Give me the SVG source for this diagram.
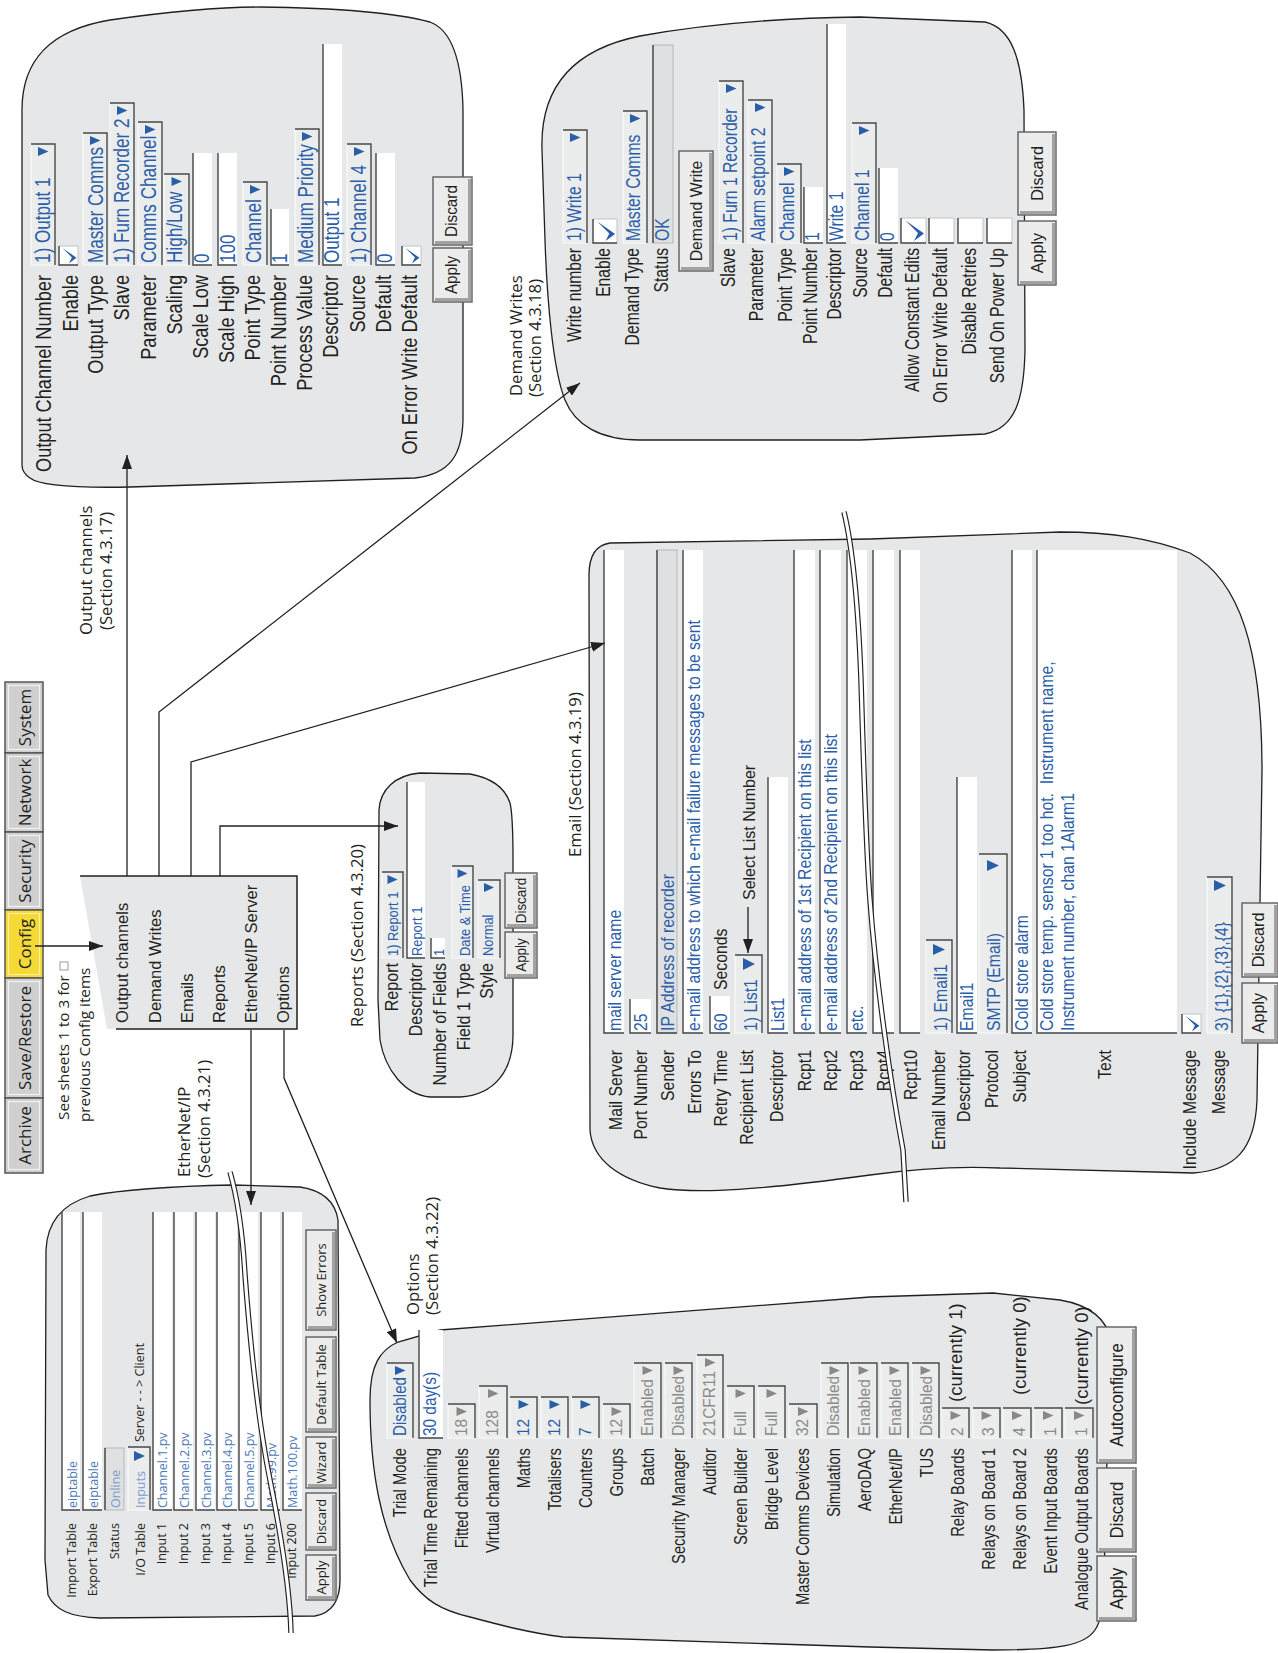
<svg xmlns="http://www.w3.org/2000/svg" width="1278" height="1653" viewBox="0 0 1278 1653">
<defs>
<marker id="ah" viewBox="0 0 14 10" refX="14" refY="5" markerWidth="14" markerHeight="10" markerUnits="userSpaceOnUse" orient="auto"><path d="M0,0L14,5L0,10z" fill="#231f20"/></marker>
</defs>
<style>
.pn{fill:#e6e7e8;stroke:#231f20;stroke-width:1.3}
.ln{fill:none;stroke:#231f20;stroke-width:1.3}
.dd{fill:#ebecec;stroke:#fbfbfb;stroke-width:1}
.wf{fill:#fff}
.gb{fill:#dfe0e1;stroke:#b8b8b8;stroke-width:1}
.dk{fill:none;stroke:#454545;stroke-width:1.4}
.lt{fill:none;stroke:#c4c4c4;stroke-width:1}
.tb{fill:#2b5ea9}
.tg{fill:#8b8782}
.bt{fill:#ececec;stroke:#5e5e5e;stroke-width:1.4}
.bs{fill:none;stroke:#a2a2a2;stroke-width:3}
.tab{fill:#d0d0d0;stroke:#555;stroke-width:1.5}
.tabi{fill:none;stroke:#f2f2f2;stroke-width:1.2}
.tabc{fill:#f5d936;stroke:#555;stroke-width:1.5}
.tabci{fill:none;stroke:#fff2a0;stroke-width:1.2}
.brk1{fill:none;stroke:#231f20;stroke-width:5.5}
.brk2{fill:none;stroke:#fff;stroke-width:3.2}
.f{font-family:"Liberation Sans",Arial,sans-serif;fill:#231f20}
.o{font-family:"Open Sans","Noto Sans",sans-serif;fill:#231f20}
.bl{fill:#2b5ea9}
.gy{fill:#8a8a8a}
.lb{fill:#4d79b6}
.lb2{fill:#7d9ccc}
.e{text-anchor:end}
.m{text-anchor:middle}
.z1{font-size:21.4px}
.z2{font-size:20px}
.z3{font-size:18.6px}
.z4{font-size:18.5px}
.z5{font-size:16.3px}
.z6{font-size:17.5px}
.z7{font-size:14px}
.z8{font-size:17px}
.z9{font-size:16.7px}
.z10{font-size:16.5px}
.z11{font-size:12.5px}
.z12{font-size:13px}
.z13{font-size:17px}
.z14{font-size:15.3px}
.z15{font-size:16px}
.z16{font-size:15px}
</style>
<rect width="1278" height="1653" fill="#fff"/>

<g id="output-channels">
<path class="pn" d="M22,465 L22,110 C22,60 50,30 110,20 C180,10 230,7 260,7 C340,8 400,14 430,22 C452,30 462,60 463,110 L463,420 C462,455 450,474 415,478 L130,487 C80,488 40,486 30,478 C24,474 22,470 22,465 Z"/>
<rect class="dd" x="31" y="144" width="24" height="121"/><path class="dk" d="M31,144H55V265"/><polygon class="tb" points="38,147 38,156 48.5,151.5"/>
<rect class="wf" x="59" y="246" width="19" height="19"/><path class="lt" d="M59,246H78V265"/><path class="dk" d="M59,246V265H78"/><polygon class="tb" points="62.4,247.9 76.5,257.8 68.9,263.5 71.9,257.4"/>
<rect class="dd" x="83" y="133" width="24" height="132"/><path class="dk" d="M83,133H107V265"/><polygon class="tb" points="90,136 90,145 100.5,140.5"/>
<rect class="dd" x="110" y="103" width="24" height="162"/><path class="dk" d="M110,103H134V265"/><polygon class="tb" points="117,106 117,115 127.5,110.5"/>
<rect class="dd" x="138" y="122" width="24" height="143"/><path class="dk" d="M138,122H162V265"/><polygon class="tb" points="145,125 145,134 155.5,129.5"/>
<rect class="dd" x="164" y="174" width="25" height="91"/><path class="dk" d="M164,174H189V265"/><polygon class="tb" points="171.5,177 171.5,186 182,181.5"/>
<rect class="wf" x="193" y="153" width="19" height="112"/><path class="dk" d="M193,153V265H212"/>
<rect class="wf" x="218" y="153" width="19" height="112"/><path class="dk" d="M218,153V265H237"/>
<rect class="dd" x="243" y="182" width="24" height="83"/><path class="dk" d="M243,182H267V265"/><polygon class="tb" points="250,185 250,194 260.5,189.5"/>
<rect class="wf" x="271" y="209" width="18" height="56"/><path class="dk" d="M271,209V265H289"/>
<rect class="dd" x="295" y="129" width="24" height="136"/><path class="dk" d="M295,129H319V265"/><polygon class="tb" points="302,132 302,141 312.5,136.5"/>
<rect class="wf" x="323" y="44" width="19" height="221"/><path class="dk" d="M323,44V265H342"/>
<rect class="dd" x="347" y="144" width="24" height="121"/><path class="dk" d="M347,144H371V265"/><polygon class="tb" points="354,147 354,156 364.5,151.5"/>
<rect class="wf" x="376" y="153" width="19" height="112"/><path class="dk" d="M376,153V265H395"/>
<rect class="wf" x="402" y="246" width="19" height="19"/><path class="lt" d="M402,246H421V265"/><path class="dk" d="M402,246V265H421"/><polygon class="tb" points="405.4,247.9 419.5,257.8 411.9,263.5 414.9,257.4"/>
<rect class="bt" x="433" y="177" width="39" height="68"/><path class="bs" d="M469.5,179V242.5H435"/>
<rect class="bt" x="433" y="248" width="39" height="54"/><path class="bs" d="M469.5,250V299.5H435"/>
<text class="f z8 m" transform="translate(457 211) rotate(-90) scale(.9 1)">Discard</text>
<text class="f z8 m" transform="translate(457 275) rotate(-90) scale(.9 1)">Apply</text>
<text class="f z1 e" transform="translate(51 275) rotate(-90) scale(.85 1)">Output Channel Number</text>
<text class="f z1 e" transform="translate(78 275) rotate(-90) scale(.85 1)">Enable</text>
<text class="f z1 e" transform="translate(103 275) rotate(-90) scale(.85 1)">Output Type</text>
<text class="f z1 e" transform="translate(129 275) rotate(-90) scale(.85 1)">Slave</text>
<text class="f z1 e" transform="translate(156 275) rotate(-90) scale(.85 1)">Parameter</text>
<text class="f z1 e" transform="translate(182 275) rotate(-90) scale(.85 1)">Scaling</text>
<text class="f z1 e" transform="translate(208 275) rotate(-90) scale(.85 1)">Scale Low</text>
<text class="f z1 e" transform="translate(234 275) rotate(-90) scale(.85 1)">Scale High</text>
<text class="f z1 e" transform="translate(260 275) rotate(-90) scale(.85 1)">Point Type</text>
<text class="f z1 e" transform="translate(286 275) rotate(-90) scale(.85 1)">Point Number</text>
<text class="f z1 e" transform="translate(312 275) rotate(-90) scale(.85 1)">Process Value</text>
<text class="f z1 e" transform="translate(338 275) rotate(-90) scale(.85 1)">Descriptor</text>
<text class="f z1 e" transform="translate(365 275) rotate(-90) scale(.85 1)">Source</text>
<text class="f z1 e" transform="translate(391 275) rotate(-90) scale(.85 1)">Default</text>
<text class="f z1 e" transform="translate(417 275) rotate(-90) scale(.85 1)">On Error Write Default</text>
<text class="f z1 bl" transform="translate(50 263) rotate(-90) scale(.8 1)">1) Output 1</text>
<text class="f z1 bl" transform="translate(103 263) rotate(-90) scale(.8 1)">Master Comms</text>
<text class="f z1 bl" transform="translate(129 263) rotate(-90) scale(.8 1)">1) Furn Recorder 2</text>
<text class="f z1 bl" transform="translate(156 263) rotate(-90) scale(.8 1)">Comms Channel</text>
<text class="f z1 bl" transform="translate(182 263) rotate(-90) scale(.8 1)">High/Low</text>
<text class="f z1 bl" transform="translate(209 263) rotate(-90) scale(.8 1)">0</text>
<text class="f z1 bl" transform="translate(235 263) rotate(-90) scale(.8 1)">100</text>
<text class="f z1 bl" transform="translate(261 263) rotate(-90) scale(.8 1)">Channel</text>
<text class="f z1 bl" transform="translate(287 263) rotate(-90) scale(.8 1)">1</text>
<text class="f z1 bl" transform="translate(313 263) rotate(-90) scale(.8 1)">Medium Priority</text>
<text class="f z1 bl" transform="translate(339 263) rotate(-90) scale(.8 1)">Output 1</text>
<text class="f z1 bl" transform="translate(366 263) rotate(-90) scale(.8 1)">1) Channel 4</text>
<text class="f z1 bl" transform="translate(392 263) rotate(-90) scale(.8 1)">0</text>
</g>

<g id="demand-writes">
<path class="pn" d="M542,150 C540,90 570,50 640,36 C700,25 780,18 860,17 L985,22 C1012,28 1022,60 1024,110 L1025,350 C1024,400 1015,428 985,434 L860,440 L640,440 C600,440 575,425 565,400 C553,370 547,300 545,240 Z"/>
<rect class="dd" x="563" y="130" width="24" height="113"/><path class="dk" d="M563,130H587V243"/><polygon class="tb" points="570,133 570,142 580.5,137.5"/>
<rect class="wf" x="593" y="219" width="24" height="24"/><path class="lt" d="M593,219H617V243"/><path class="dk" d="M593,219V243H617"/><polygon class="tb" points="597.3,221.4 615.1,233.9 605.5,241.1 609.3,233.4"/>
<rect class="dd" x="623" y="111" width="24" height="132"/><path class="dk" d="M623,111H647V243"/><polygon class="tb" points="630,114 630,123 640.5,118.5"/>
<rect class="gb" x="653" y="45" width="20" height="198"/><path class="dk" d="M653,45V243"/>
<rect class="bt" x="679" y="151" width="34" height="120"/><path class="bs" d="M710.5,153V268.5H681"/>
<text class="f z8 m" transform="translate(702 211) rotate(-90) scale(.93 1)">Demand Write</text>
<rect class="dd" x="719" y="81" width="24" height="162"/><path class="dk" d="M719,81H743V243"/><polygon class="tb" points="726,84 726,93 736.5,88.5"/>
<rect class="dd" x="748" y="100" width="24" height="143"/><path class="dk" d="M748,100H772V243"/><polygon class="tb" points="755,103 755,112 765.5,107.5"/>
<rect class="dd" x="777" y="164" width="24" height="79"/><path class="dk" d="M777,164H801V243"/><polygon class="tb" points="784,167 784,176 794.5,171.5"/>
<rect class="wf" x="804" y="187" width="19" height="56"/><path class="dk" d="M804,187V243H823"/>
<rect class="wf" x="827" y="24" width="19" height="219"/><path class="dk" d="M827,24V243H846"/>
<rect class="dd" x="852" y="123" width="24" height="120"/><path class="dk" d="M852,123H876V243"/><polygon class="tb" points="859,126 859,135 869.5,130.5"/>
<rect class="wf" x="879" y="168" width="19" height="75"/><path class="dk" d="M879,168V243H898"/>
<rect class="wf" x="901" y="218" width="25" height="25"/><path class="lt" d="M901,218H926V243"/><path class="dk" d="M901,218V243H926"/><polygon class="tb" points="905.5,220.5 924,233.5 914,241 918,233"/>
<rect class="wf" x="929" y="218" width="25" height="25"/><path class="lt" d="M929,218H954V243"/><path class="dk" d="M929,218V243H954"/>
<rect class="wf" x="958" y="218" width="25" height="25"/><path class="lt" d="M958,218H983V243"/><path class="dk" d="M958,218V243H983"/>
<rect class="wf" x="987" y="218" width="25" height="25"/><path class="lt" d="M987,218H1012V243"/><path class="dk" d="M987,218V243H1012"/>
<rect class="bt" x="1018" y="132" width="38" height="83"/><path class="bs" d="M1053.5,134V212.5H1020"/>
<rect class="bt" x="1018" y="221" width="38" height="64"/><path class="bs" d="M1053.5,223V282.5H1020"/>
<text class="f z8 m" transform="translate(1043 173.5) rotate(-90) scale(.95 1)">Discard</text>
<text class="f z8 m" transform="translate(1043 253) rotate(-90) scale(.95 1)">Apply</text>
<text class="f z2 e" transform="translate(581 248) rotate(-90) scale(.785 1)">Write number</text>
<text class="f z2 e" transform="translate(610 248) rotate(-90) scale(.785 1)">Enable</text>
<text class="f z2 e" transform="translate(639 248) rotate(-90) scale(.785 1)">Demand Type</text>
<text class="f z2 e" transform="translate(668 248) rotate(-90) scale(.785 1)">Status</text>
<text class="f z2 e" transform="translate(735 248) rotate(-90) scale(.785 1)">Slave</text>
<text class="f z2 e" transform="translate(763 248) rotate(-90) scale(.785 1)">Parameter</text>
<text class="f z2 e" transform="translate(792 248) rotate(-90) scale(.785 1)">Point Type</text>
<text class="f z2 e" transform="translate(817 248) rotate(-90) scale(.785 1)">Point Number</text>
<text class="f z2 e" transform="translate(841 248) rotate(-90) scale(.785 1)">Descriptor</text>
<text class="f z2 e" transform="translate(867 248) rotate(-90) scale(.785 1)">Source</text>
<text class="f z2 e" transform="translate(892 248) rotate(-90) scale(.785 1)">Default</text>
<text class="f z2 e" transform="translate(919 248) rotate(-90) scale(.785 1)">Allow Constant Edits</text>
<text class="f z2 e" transform="translate(947 248) rotate(-90) scale(.785 1)">On Error Write Default</text>
<text class="f z2 e" transform="translate(976 248) rotate(-90) scale(.785 1)">Disable Retries</text>
<text class="f z2 e" transform="translate(1004 248) rotate(-90) scale(.785 1)">Send On Power Up</text>
<text class="f z2 bl" transform="translate(581 241) rotate(-90) scale(.785 1)">1) Write 1</text>
<text class="f z2 bl" transform="translate(640 241) rotate(-90) scale(.785 1)">Master Comms</text>
<text class="f z2 bl" transform="translate(669 241) rotate(-90) scale(.785 1)">OK</text>
<text class="f z2 bl" transform="translate(737 241) rotate(-90) scale(.785 1)">1) Furn 1 Recorder</text>
<text class="f z2 bl" transform="translate(765 241) rotate(-90) scale(.785 1)">Alarm setpoint 2</text>
<text class="f z2 bl" transform="translate(794 241) rotate(-90) scale(.785 1)">Channel</text>
<text class="f z2 bl" transform="translate(819 241) rotate(-90) scale(.785 1)">1</text>
<text class="f z2 bl" transform="translate(843 241) rotate(-90) scale(.785 1)">Write 1</text>
<text class="f z2 bl" transform="translate(869 241) rotate(-90) scale(.785 1)">Channel 1</text>
<text class="f z2 bl" transform="translate(894 241) rotate(-90) scale(.785 1)">0</text>
</g>

<g id="tabs">
<rect class="tab" x="5" y="682" width="38" height="71"/><rect class="tabi" x="8.5" y="685.5" width="31" height="64"/>
<rect class="tab" x="5" y="753" width="38" height="79"/><rect class="tabi" x="8.5" y="756.5" width="31" height="72"/>
<rect class="tab" x="5" y="832" width="38" height="78"/><rect class="tabi" x="8.5" y="835.5" width="31" height="71"/>
<rect class="tabc" x="5" y="910" width="38" height="68"/><rect class="tabci" x="8.5" y="913.5" width="31" height="61"/>
<rect class="tab" x="5" y="978" width="38" height="120"/><rect class="tabi" x="8.5" y="981.5" width="31" height="113"/>
<rect class="tab" x="5" y="1098" width="38" height="75"/><rect class="tabi" x="8.5" y="1101.5" width="31" height="68"/>
<text class="o z13 m" transform="translate(31 717.5) rotate(-90)">System</text>
<text class="o z13 m" transform="translate(31 792.5) rotate(-90)">Network</text>
<text class="o z13 m" transform="translate(31 871) rotate(-90)">Security</text>
<text class="o z13 m" transform="translate(31 944) rotate(-90)">Config</text>
<text class="o z13 m" transform="translate(31 1038) rotate(-90)">Save/Restore</text>
<text class="o z13 m" transform="translate(31 1135.5) rotate(-90)">Archive</text>
</g>

<g id="config-menu">
<polygon points="80,876 297,876 297,1029 107,1029" fill="#e6e7e8"/>
<path d="M80,876H297V1029H116" fill="none" stroke="#231f20" stroke-width="1.5"/>
<text class="f z10" transform="translate(128 1023) rotate(-90)">Output channels</text>
<text class="f z10" transform="translate(161 1023) rotate(-90)">Demand Writes</text>
<text class="f z10" transform="translate(193 1023) rotate(-90)">Emails</text>
<text class="f z10" transform="translate(225 1023) rotate(-90)">Reports</text>
<text class="f z10" transform="translate(257 1023) rotate(-90)">EtherNet/IP Server</text>
<text class="f z10" transform="translate(289 1023) rotate(-90)">Options</text>
</g>

<g id="note">
<text class="o z14" transform="translate(69 1120) rotate(-90)">See sheets 1 to 3 for</text>
<rect x="60" y="962" width="8" height="8" fill="none" stroke="#9a9a9a" stroke-width="1"/>
<text class="o z14" transform="translate(90 1122) rotate(-90)">previous Config items</text>
</g>

<g id="reports">
<path class="pn" d="M378,1000 L379,810 C380,790 395,775 420,773 L470,774 C492,778 505,788 510,803 C513,815 513,840 513,860 L513,1035 C513,1070 495,1095 460,1097 L430,1097 C405,1095 385,1070 380,1040 Z"/>
<rect class="dd" x="382" y="872" width="21" height="86"/><path class="dk" d="M382,872H403V958"/><polygon class="tb" points="387.5,875 387.5,884 397.5,879.5"/>
<rect class="wf" x="407" y="782" width="18" height="176"/><path class="dk" d="M407,782V958H425"/>
<rect class="wf" x="431" y="938" width="14" height="20"/><path class="dk" d="M431,938V958H445"/>
<rect class="dd" x="452" y="866" width="21" height="92"/><path class="dk" d="M452,866H473V958"/><polygon class="tb" points="457.5,869 457.5,878 467.5,873.5"/>
<rect class="dd" x="478" y="880" width="22" height="78"/><path class="dk" d="M478,880H500V958"/><polygon class="tb" points="484,883 484,892 494,887.5"/>
<rect class="bt" x="505" y="873" width="32" height="55"/><path class="bs" d="M534.5,875V925.5H507"/>
<rect class="bt" x="505" y="932" width="32" height="46"/><path class="bs" d="M534.5,934V975.5H507"/>
<text class="f z16 m" transform="translate(526 900.5) rotate(-90) scale(.9 1)">Discard</text>
<text class="f z16 m" transform="translate(526 955) rotate(-90) scale(.9 1)">Apply</text>
<text class="f z6 e" transform="translate(398 963) rotate(-90) scale(.92 1)">Report</text>
<text class="f z6 e" transform="translate(422 963) rotate(-90) scale(.92 1)">Descriptor</text>
<text class="f z6 e" transform="translate(446 963) rotate(-90) scale(.92 1)">Number of Fields</text>
<text class="f z6 e" transform="translate(470 963) rotate(-90) scale(.92 1)">Field 1 Type</text>
<text class="f z6 e" transform="translate(493 963) rotate(-90) scale(.92 1)">Style</text>
<text class="f z7 bl" transform="translate(398 956) rotate(-90) scale(.92 1)">1) Report 1</text>
<text class="f z7 bl" transform="translate(422 956) rotate(-90) scale(.92 1)">Report 1</text>
<text class="f z7 bl" transform="translate(444 956) rotate(-90) scale(.92 1)">1</text>
<text class="f z7 bl" transform="translate(470 956) rotate(-90) scale(.92 1)">Date &amp; Time</text>
<text class="f z7 bl" transform="translate(493 956) rotate(-90) scale(.92 1)">Normal</text>
</g>

<g id="email">
<path class="pn" d="M590,1130 C592,1160 620,1180 660,1188 C700,1194 760,1190 870,1175 C920,1168 960,1166 1000,1168 L1193,1173 C1235,1170 1255,1150 1257,1100 L1262,770 C1262,650 1240,580 1190,553 C1150,538 1110,532 1060,532 L870,539 L610,543 C596,545 589,555 589,575 Z"/>
<rect class="wf" x="604" y="550" width="20" height="483"/><path class="dk" d="M604,550V1033H624"/>
<rect class="wf" x="630" y="999" width="21" height="34"/><path class="dk" d="M630,999V1033H651"/>
<rect class="gb" x="657" y="550" width="20" height="483"/><path class="dk" d="M657,550V1033H677"/>
<rect class="wf" x="683" y="550" width="20" height="483"/><path class="dk" d="M683,550V1033H703"/>
<rect class="wf" x="710" y="996" width="20" height="37"/><path class="dk" d="M710,996V1033H730"/>
<rect class="dd" x="735" y="955" width="27" height="78"/><path class="dk" d="M735,955H762V1033"/><polygon class="tb" points="743,958 743,970 755,964"/>
<rect class="wf" x="768" y="777" width="20" height="256"/><path class="dk" d="M768,777V1033H788"/>
<rect class="wf" x="794" y="550" width="21" height="483"/><path class="dk" d="M794,550V1033H815"/>
<rect class="wf" x="820" y="550" width="21" height="483"/><path class="dk" d="M820,550V1033H841"/>
<rect class="wf" x="847" y="550" width="20" height="483"/><path class="dk" d="M847,550V1033H867"/>
<rect class="wf" x="873" y="550" width="21" height="483"/><path class="dk" d="M873,550V1033H894"/>
<rect class="wf" x="900" y="550" width="20" height="483"/><path class="dk" d="M900,550V1033H920"/>
<rect class="dd" x="926" y="940" width="26" height="93"/><path class="dk" d="M926,940H952V1033"/><polygon class="tb" points="933,944 933,955 945,949.5"/>
<rect class="wf" x="957" y="777" width="20" height="256"/><path class="dk" d="M957,777V1033H977"/>
<rect class="dd" x="979" y="854" width="28" height="179"/><path class="dk" d="M979,854H1007V1033"/><polygon class="tb" points="987,860 987,871 999,865.5"/>
<rect class="wf" x="1012" y="550" width="20" height="483"/><path class="dk" d="M1012,550V1033H1032"/>
<rect class="wf" x="1037" y="550" width="140" height="483"/><path class="dk" d="M1037,550V1033H1177"/>
<rect class="wf" x="1182" y="1014" width="19" height="19"/><path class="lt" d="M1182,1014H1201V1033"/><path class="dk" d="M1182,1014V1033H1201"/><polygon class="tb" points="1185.4,1015.9 1199.5,1025.8 1191.9,1031.5 1194.9,1025.4"/>
<rect class="dd" x="1207" y="877" width="25" height="156"/><path class="dk" d="M1207,877H1232V1033"/><polygon class="tb" points="1214,880 1214,891 1226,885.5"/>
<rect class="bt" x="1242" y="903" width="36" height="74"/><path class="bs" d="M1275.5,905V974.5H1244"/>
<rect class="bt" x="1242" y="983" width="36" height="60"/><path class="bs" d="M1275.5,985V1040.5H1244"/>
<text class="f z8 m" transform="translate(1264 940) rotate(-90) scale(.95 1)">Discard</text>
<text class="f z8 m" transform="translate(1264 1013) rotate(-90) scale(.95 1)">Apply</text>
<text class="f z3 e" transform="translate(622 1050) rotate(-90) scale(.85 1)">Mail Server</text>
<text class="f z3 e" transform="translate(647 1050) rotate(-90) scale(.85 1)">Port Number</text>
<text class="f z3 e" transform="translate(674 1050) rotate(-90) scale(.85 1)">Sender</text>
<text class="f z3 e" transform="translate(701 1050) rotate(-90) scale(.85 1)">Errors To</text>
<text class="f z3 e" transform="translate(727 1050) rotate(-90) scale(.85 1)">Retry Time</text>
<text class="f z3 e" transform="translate(753 1050) rotate(-90) scale(.85 1)">Recipient List</text>
<text class="f z3 e" transform="translate(783 1050) rotate(-90) scale(.85 1)">Descriptor</text>
<text class="f z3 e" transform="translate(811 1050) rotate(-90) scale(.85 1)">Rcpt1</text>
<text class="f z3 e" transform="translate(837 1050) rotate(-90) scale(.85 1)">Rcpt2</text>
<text class="f z3 e" transform="translate(863 1050) rotate(-90) scale(.85 1)">Rcpt3</text>
<text class="f z3 e" transform="translate(890 1050) rotate(-90) scale(.85 1)">Rcpt4</text>
<text class="f z3 e" transform="translate(917 1050) rotate(-90) scale(.85 1)">Rcpt10</text>
<text class="f z3 e" transform="translate(945 1050) rotate(-90) scale(.85 1)">Email Number</text>
<text class="f z3 e" transform="translate(970 1050) rotate(-90) scale(.85 1)">Descriptor</text>
<text class="f z3 e" transform="translate(998 1050) rotate(-90) scale(.85 1)">Protocol</text>
<text class="f z3 e" transform="translate(1026 1050) rotate(-90) scale(.85 1)">Subject</text>
<text class="f z3 e" transform="translate(1111 1050) rotate(-90) scale(.85 1)">Text</text>
<text class="f z3 e" transform="translate(1196 1050) rotate(-90) scale(.85 1)">Include Message</text>
<text class="f z3 e" transform="translate(1225 1050) rotate(-90) scale(.85 1)">Message</text>
<text class="f z3 bl" transform="translate(621 1031) rotate(-90) scale(.85 1)">mail server name</text>
<text class="f z3 bl" transform="translate(647 1031) rotate(-90) scale(.85 1)">25</text>
<text class="f z3 bl" transform="translate(674 1031) rotate(-90) scale(.85 1)">IP Address of recorder</text>
<text class="f z3 bl" transform="translate(700 1031) rotate(-90) scale(.85 1)">e-mail address to which e-mail failure messages to be sent</text>
<text class="f z3 bl" transform="translate(727 1031) rotate(-90) scale(.85 1)">60</text>
<text class="f z3" transform="translate(727 990) rotate(-90) scale(.85 1)">Seconds</text>
<text class="f z3 bl" transform="translate(757 1031) rotate(-90) scale(.85 1)">1) List1</text>
<text class="f z3 bl" transform="translate(784 1031) rotate(-90) scale(.85 1)">List1</text>
<text class="f z3 bl" transform="translate(811 1031) rotate(-90) scale(.85 1)">e-mail address of 1st Recipient on this list</text>
<text class="f z3 bl" transform="translate(837 1031) rotate(-90) scale(.85 1)">e-mail address of 2nd Recipient on this list</text>
<text class="f z3 bl" transform="translate(863 1031) rotate(-90) scale(.85 1)">etc.</text>
<text class="f z3 bl" transform="translate(947 1031) rotate(-90) scale(.85 1)">1) Email1</text>
<text class="f z3 bl" transform="translate(973 1031) rotate(-90) scale(.85 1)">Email1</text>
<text class="f z3 bl" transform="translate(1000 1031) rotate(-90) scale(.85 1)">SMTP (Email)</text>
<text class="f z3 bl" transform="translate(1028 1031) rotate(-90) scale(.85 1)">Cold store alarm</text>
<text class="f z3 bl" transform="translate(1053 1031) rotate(-90) scale(.85 1)">Cold store temp. sensor 1 too hot.&#160; Instrument name,</text>
<text class="f z3 bl" transform="translate(1074 1031) rotate(-90) scale(.85 1)">Instrument number, chan 1Alarm1</text>
<text class="f z3 bl" transform="translate(1228 1031) rotate(-90) scale(.85 1)">3) {1},{2},{3},{4}</text>
<text class="f z15" transform="translate(755 900) rotate(-90)">Select List Number</text>
</g>

<g id="ethernet-ip">
<path class="pn" d="M45,1560 L46,1250 C47,1225 60,1205 90,1196 C130,1188 180,1186 233,1185 L300,1187 C320,1190 335,1200 338,1220 L340,1580 C340,1600 332,1613 315,1616 L100,1618 C70,1617 55,1610 48,1595 Z"/>
<rect class="wf" x="62" y="1212" width="18" height="298"/><path class="dk" d="M62,1212V1510H80"/>
<rect class="wf" x="83" y="1212" width="19" height="298"/><path class="dk" d="M83,1212V1510H102"/>
<rect class="gb" x="105" y="1448" width="19" height="62"/><path class="dk" d="M105,1448V1510"/>
<rect class="dd" x="128" y="1447" width="22" height="63"/><path class="dk" d="M128,1447H150V1510"/><polygon class="tb" points="134,1451 134,1461 145,1456"/>
<rect class="wf" x="153" y="1212" width="19" height="298"/><path class="dk" d="M153,1212V1510H172"/>
<rect class="wf" x="174" y="1212" width="19" height="298"/><path class="dk" d="M174,1212V1510H193"/>
<rect class="wf" x="196" y="1212" width="19" height="298"/><path class="dk" d="M196,1212V1510H215"/>
<rect class="wf" x="217" y="1212" width="20" height="298"/><path class="dk" d="M217,1212V1510H237"/>
<rect class="wf" x="239" y="1212" width="19" height="298"/><path class="dk" d="M239,1212V1510H258"/>
<rect class="wf" x="261" y="1212" width="19" height="298"/><path class="dk" d="M261,1212V1510H280"/>
<rect class="wf" x="283" y="1212" width="19" height="298"/><path class="dk" d="M283,1212V1510H302"/>
<rect class="bt" x="306" y="1230" width="30" height="100"/><path class="bs" d="M333.5,1232V1327.5H308"/>
<rect class="bt" x="306" y="1337" width="30" height="95"/><path class="bs" d="M333.5,1339V1429.5H308"/>
<rect class="bt" x="306" y="1437" width="30" height="51"/><path class="bs" d="M333.5,1439V1485.5H308"/>
<rect class="bt" x="306" y="1493" width="30" height="57"/><path class="bs" d="M333.5,1495V1547.5H308"/>
<rect class="bt" x="306" y="1555" width="30" height="45"/><path class="bs" d="M333.5,1557V1597.5H308"/>
<text class="o z12 m" transform="translate(326 1280) rotate(-90)">Show Errors</text>
<text class="o z12 m" transform="translate(326 1384.5) rotate(-90)">Default Table</text>
<text class="o z12 m" transform="translate(326 1462.5) rotate(-90)">Wizard</text>
<text class="o z12 m" transform="translate(326 1521.5) rotate(-90)">Discard</text>
<text class="o z12 m" transform="translate(326 1577.5) rotate(-90)">Apply</text>
<text class="o z11 e" transform="translate(76 1523) rotate(-90)">Import Table</text>
<text class="o z11 e" transform="translate(97 1523) rotate(-90)">Export Table</text>
<text class="o z11 e" transform="translate(119 1523) rotate(-90)">Status</text>
<text class="o z11 e" transform="translate(145 1523) rotate(-90)">I/O Table</text>
<text class="o z11 e" transform="translate(166 1523) rotate(-90)">Input 1</text>
<text class="o z11 e" transform="translate(188 1523) rotate(-90)">Input 2</text>
<text class="o z11 e" transform="translate(210 1523) rotate(-90)">Input 3</text>
<text class="o z11 e" transform="translate(231 1523) rotate(-90)">Input 4</text>
<text class="o z11 e" transform="translate(253 1523) rotate(-90)">Input 5</text>
<text class="o z11 e" transform="translate(275 1523) rotate(-90)">Input 6</text>
<text class="o z11 e" transform="translate(296 1523) rotate(-90)">Input 200</text>
<text class="o z11 lb" transform="translate(77 1508) rotate(-90)">eiptable</text>
<text class="o z11 lb" transform="translate(98 1508) rotate(-90)">eiptable</text>
<text class="o z11 lb2" transform="translate(120 1508) rotate(-90)">Online</text>
<text class="o z11 lb2" transform="translate(145 1508) rotate(-90)">Inputs</text>
<text class="o z11" transform="translate(144 1442) rotate(-90)">Server - - &gt; Client</text>
<text class="o z11 lb" transform="translate(167 1508) rotate(-90)">Channel.1.pv</text>
<text class="o z11 lb" transform="translate(189 1508) rotate(-90)">Channel.2.pv</text>
<text class="o z11 lb" transform="translate(211 1508) rotate(-90)">Channel.3.pv</text>
<text class="o z11 lb" transform="translate(232 1508) rotate(-90)">Channel.4.pv</text>
<text class="o z11 lb" transform="translate(254 1508) rotate(-90)">Channel.5.pv</text>
<text class="o z11 lb" transform="translate(276 1508) rotate(-90)">Math.99.pv</text>
<text class="o z11 lb" transform="translate(297 1508) rotate(-90)">Math.100.pv</text>
</g>

<g id="options">
<path class="pn" d="M398,1342 C380,1350 370,1365 370,1400 C370,1470 380,1530 410,1580 C425,1600 440,1610 470,1617 C500,1625 530,1633 563,1637 L870,1647 L993,1650 C1060,1650 1085,1645 1095,1630 C1102,1620 1104,1600 1104,1580 L1110,1340 C1108,1320 1090,1305 1060,1300 L993,1293 L870,1297 L440,1330 Z"/>
<rect class="dd" x="387" y="1363" width="26" height="75"/><path class="dk" d="M387,1363H413V1438"/><polygon class="tb" points="395,1366 395,1375 405.5,1370.5"/>
<rect class="wf" x="419" y="1330" width="24" height="108"/><path class="dk" d="M419,1330V1438H443"/>
<rect class="dd" x="448" y="1404" width="27" height="34"/><path class="dk" d="M448,1404H475V1438"/><polygon class="tg" points="456.5,1407 456.5,1416 467,1411.5"/>
<rect class="dd" x="479" y="1386" width="28" height="52"/><path class="dk" d="M479,1386H507V1438"/><polygon class="tg" points="488,1389 488,1398 498.5,1393.5"/>
<rect class="dd" x="510" y="1397" width="27" height="41"/><path class="dk" d="M510,1397H537V1438"/><polygon class="tb" points="518.5,1400 518.5,1409 529,1404.5"/>
<rect class="dd" x="541" y="1397" width="27" height="41"/><path class="dk" d="M541,1397H568V1438"/><polygon class="tb" points="549.5,1400 549.5,1409 560,1404.5"/>
<rect class="dd" x="572" y="1397" width="27" height="41"/><path class="dk" d="M572,1397H599V1438"/><polygon class="tb" points="580.5,1400 580.5,1409 591,1404.5"/>
<rect class="dd" x="603" y="1404" width="27" height="34"/><path class="dk" d="M603,1404H630V1438"/><polygon class="tg" points="611.5,1407 611.5,1416 622,1411.5"/>
<rect class="dd" x="634" y="1363" width="27" height="75"/><path class="dk" d="M634,1363H661V1438"/><polygon class="tg" points="642.5,1366 642.5,1375 653,1370.5"/>
<rect class="dd" x="665" y="1363" width="27" height="75"/><path class="dk" d="M665,1363H692V1438"/><polygon class="tg" points="673.5,1366 673.5,1375 684,1370.5"/>
<rect class="dd" x="697" y="1355" width="26" height="83"/><path class="dk" d="M697,1355H723V1438"/><polygon class="tg" points="705,1358 705,1367 715.5,1362.5"/>
<rect class="dd" x="727" y="1386" width="27" height="52"/><path class="dk" d="M727,1386H754V1438"/><polygon class="tg" points="735.5,1389 735.5,1398 746,1393.5"/>
<rect class="dd" x="758" y="1386" width="27" height="52"/><path class="dk" d="M758,1386H785V1438"/><polygon class="tg" points="766.5,1389 766.5,1398 777,1393.5"/>
<rect class="dd" x="789" y="1404" width="28" height="34"/><path class="dk" d="M789,1404H817V1438"/><polygon class="tg" points="798,1407 798,1416 808.5,1411.5"/>
<rect class="dd" x="821" y="1363" width="27" height="75"/><path class="dk" d="M821,1363H848V1438"/><polygon class="tg" points="829.5,1366 829.5,1375 840,1370.5"/>
<rect class="dd" x="850" y="1363" width="27" height="75"/><path class="dk" d="M850,1363H877V1438"/><polygon class="tg" points="858.5,1366 858.5,1375 869,1370.5"/>
<rect class="dd" x="881" y="1363" width="27" height="75"/><path class="dk" d="M881,1363H908V1438"/><polygon class="tg" points="889.5,1366 889.5,1375 900,1370.5"/>
<rect class="dd" x="912" y="1363" width="27" height="75"/><path class="dk" d="M912,1363H939V1438"/><polygon class="tg" points="920.5,1366 920.5,1375 931,1370.5"/>
<rect class="dd" x="942" y="1408" width="27" height="30"/><path class="dk" d="M942,1408H969V1438"/><polygon class="tg" points="950.5,1411 950.5,1420 961,1415.5"/>
<rect class="dd" x="973" y="1408" width="27" height="30"/><path class="dk" d="M973,1408H1000V1438"/><polygon class="tg" points="981.5,1411 981.5,1420 992,1415.5"/>
<rect class="dd" x="1003" y="1408" width="28" height="30"/><path class="dk" d="M1003,1408H1031V1438"/><polygon class="tg" points="1012,1411 1012,1420 1022.5,1415.5"/>
<rect class="dd" x="1034" y="1408" width="28" height="30"/><path class="dk" d="M1034,1408H1062V1438"/><polygon class="tg" points="1043,1411 1043,1420 1053.5,1415.5"/>
<rect class="dd" x="1065" y="1408" width="28" height="30"/><path class="dk" d="M1065,1408H1093V1438"/><polygon class="tg" points="1074,1411 1074,1420 1084.5,1415.5"/>
<rect class="bt" x="1097" y="1327" width="39" height="136"/><path class="bs" d="M1133.5,1329V1460.5H1099"/>
<rect class="bt" x="1097" y="1468" width="39" height="84"/><path class="bs" d="M1133.5,1470V1549.5H1099"/>
<rect class="bt" x="1097" y="1556" width="39" height="65"/><path class="bs" d="M1133.5,1558V1618.5H1099"/>
<text class="f z6 m" transform="translate(1123 1395) rotate(-90) scale(.96 1)">Autoconfigure</text>
<text class="f z6 m" transform="translate(1123 1510) rotate(-90) scale(.96 1)">Discard</text>
<text class="f z6 m" transform="translate(1123 1588.5) rotate(-90) scale(.96 1)">Apply</text>
<text class="f z4 e" transform="translate(406 1448) rotate(-90) scale(.8 1)">Trial Mode</text>
<text class="f z4 e" transform="translate(437 1448) rotate(-90) scale(.8 1)">Trial Time Remaining</text>
<text class="f z4 e" transform="translate(468 1448) rotate(-90) scale(.8 1)">Fitted channels</text>
<text class="f z4 e" transform="translate(499 1448) rotate(-90) scale(.8 1)">Virtual channels</text>
<text class="f z4 e" transform="translate(530 1448) rotate(-90) scale(.8 1)">Maths</text>
<text class="f z4 e" transform="translate(561 1448) rotate(-90) scale(.8 1)">Totalisers</text>
<text class="f z4 e" transform="translate(592 1448) rotate(-90) scale(.8 1)">Counters</text>
<text class="f z4 e" transform="translate(623 1448) rotate(-90) scale(.8 1)">Groups</text>
<text class="f z4 e" transform="translate(654 1448) rotate(-90) scale(.8 1)">Batch</text>
<text class="f z4 e" transform="translate(685 1448) rotate(-90) scale(.8 1)">Security Manager</text>
<text class="f z4 e" transform="translate(716 1448) rotate(-90) scale(.8 1)">Auditor</text>
<text class="f z4 e" transform="translate(747 1448) rotate(-90) scale(.8 1)">Screen Builder</text>
<text class="f z4 e" transform="translate(778 1448) rotate(-90) scale(.8 1)">Bridge Level</text>
<text class="f z4 e" transform="translate(809 1448) rotate(-90) scale(.8 1)">Master Comms Devices</text>
<text class="f z4 e" transform="translate(840 1448) rotate(-90) scale(.8 1)">Simulation</text>
<text class="f z4 e" transform="translate(871 1448) rotate(-90) scale(.8 1)">AeroDAQ</text>
<text class="f z4 e" transform="translate(902 1448) rotate(-90) scale(.8 1)">EtherNet/IP</text>
<text class="f z4 e" transform="translate(933 1448) rotate(-90) scale(.8 1)">TUS</text>
<text class="f z4 e" transform="translate(964 1448) rotate(-90) scale(.8 1)">Relay Boards</text>
<text class="f z4 e" transform="translate(995 1448) rotate(-90) scale(.8 1)">Relays on Board 1</text>
<text class="f z4 e" transform="translate(1026 1448) rotate(-90) scale(.8 1)">Relays on Board 2</text>
<text class="f z4 e" transform="translate(1057 1448) rotate(-90) scale(.8 1)">Event Input Boards</text>
<text class="f z4 e" transform="translate(1088 1448) rotate(-90) scale(.8 1)">Analogue Output Boards</text>
<text class="f z4 bl" transform="translate(406 1436) rotate(-90) scale(.82 1)">Disabled</text>
<text class="f z4 bl" transform="translate(436 1436) rotate(-90) scale(.83 1)">30 day(s)</text>
<text class="f z5 gy" transform="translate(467 1436) rotate(-90) scale(.95 1)">18</text>
<text class="f z5 gy" transform="translate(498 1436) rotate(-90) scale(.95 1)">128</text>
<text class="f z5 bl" transform="translate(529 1436) rotate(-90) scale(.95 1)">12</text>
<text class="f z5 bl" transform="translate(560 1436) rotate(-90) scale(.95 1)">12</text>
<text class="f z5 bl" transform="translate(591 1436) rotate(-90) scale(.95 1)">7</text>
<text class="f z5 gy" transform="translate(622 1436) rotate(-90) scale(.95 1)">12</text>
<text class="f z5 gy" transform="translate(653 1436) rotate(-90) scale(.95 1)">Enabled</text>
<text class="f z5 gy" transform="translate(684 1436) rotate(-90) scale(.95 1)">Disabled</text>
<text class="f z5 gy" transform="translate(715 1436) rotate(-90) scale(.95 1)">21CFR11</text>
<text class="f z5 gy" transform="translate(746 1436) rotate(-90) scale(.95 1)">Full</text>
<text class="f z5 gy" transform="translate(777 1436) rotate(-90) scale(.95 1)">Full</text>
<text class="f z5 gy" transform="translate(808 1436) rotate(-90) scale(.95 1)">32</text>
<text class="f z5 gy" transform="translate(839 1436) rotate(-90) scale(.95 1)">Disabled</text>
<text class="f z5 gy" transform="translate(870 1436) rotate(-90) scale(.95 1)">Enabled</text>
<text class="f z5 gy" transform="translate(901 1436) rotate(-90) scale(.95 1)">Enabled</text>
<text class="f z5 gy" transform="translate(932 1436) rotate(-90) scale(.95 1)">Disabled</text>
<text class="f z5 gy" transform="translate(963 1436) rotate(-90) scale(.95 1)">2</text>
<text class="f z5 gy" transform="translate(994 1436) rotate(-90) scale(.95 1)">3</text>
<text class="f z5 gy" transform="translate(1025 1436) rotate(-90) scale(.95 1)">4</text>
<text class="f z5 gy" transform="translate(1056 1436) rotate(-90) scale(.95 1)">1</text>
<text class="f z5 gy" transform="translate(1087 1436) rotate(-90) scale(.95 1)">1</text>
<text class="f z4" transform="translate(962 1402) rotate(-90)">(currently 1)</text>
<text class="f z4" transform="translate(1026 1395) rotate(-90)">(currently 0)</text>
<text class="f z4" transform="translate(1088 1405) rotate(-90)">(currently 0)</text>
</g>

<g id="connectors" class="ln">
<path d="M35,946H103" marker-end="url(#ah)"/>
<path d="M127,876V455" marker-end="url(#ah)"/>
<path d="M159,876V712L580,383" marker-end="url(#ah)"/>
<path d="M191,876V762L605,643" marker-end="url(#ah)"/>
<path d="M220,876V826H398" marker-end="url(#ah)"/>
<path d="M251,1030V1205" marker-end="url(#ah)"/>
<path d="M284,1030V1078L397,1343" marker-end="url(#ah)"/>
<path d="M748,907V953" marker-end="url(#ah)"/>
</g>

<g id="connector-labels">
<text class="o z9" transform="translate(92 635) rotate(-90)">Output channels</text>
<text class="o z9" transform="translate(112 630) rotate(-90)">(Section 4.3.17)</text>
<text class="o z9" transform="translate(522 396) rotate(-90)">Demand Writes</text>
<text class="o z9" transform="translate(541 397) rotate(-90)">(Section 4.3.18)</text>
<text class="o z9" transform="translate(581 857) rotate(-90)">Email (Section 4.3.19)</text>
<text class="o z9" transform="translate(363 1027) rotate(-90)">Reports (Section 4.3.20)</text>
<text class="o z9" transform="translate(190 1177) rotate(-90)">EtherNet/IP</text>
<text class="o z9" transform="translate(210 1178) rotate(-90)">(Section 4.3.21)</text>
<text class="o z9" transform="translate(419 1315) rotate(-90)">Options</text>
<text class="o z9" transform="translate(438 1315) rotate(-90)">(Section 4.3.22)</text>
</g>

<g id="break-marks">
<path class="brk1" d="M230,1172 C238,1200 243,1240 245,1275 C250,1340 258,1420 270,1480 C282,1540 290,1590 291,1633"/>
<path class="brk2" d="M230,1172 C238,1200 243,1240 245,1275 C250,1340 258,1420 270,1480 C282,1540 290,1590 291,1633"/>
<path class="brk1" d="M844,512 C852,545 858,600 861,680 C864,780 866,850 870,900 C876,980 890,1080 903,1150 L906,1202"/>
<path class="brk2" d="M844,512 C852,545 858,600 861,680 C864,780 866,850 870,900 C876,980 890,1080 903,1150 L906,1202"/>
</g>
</svg>
